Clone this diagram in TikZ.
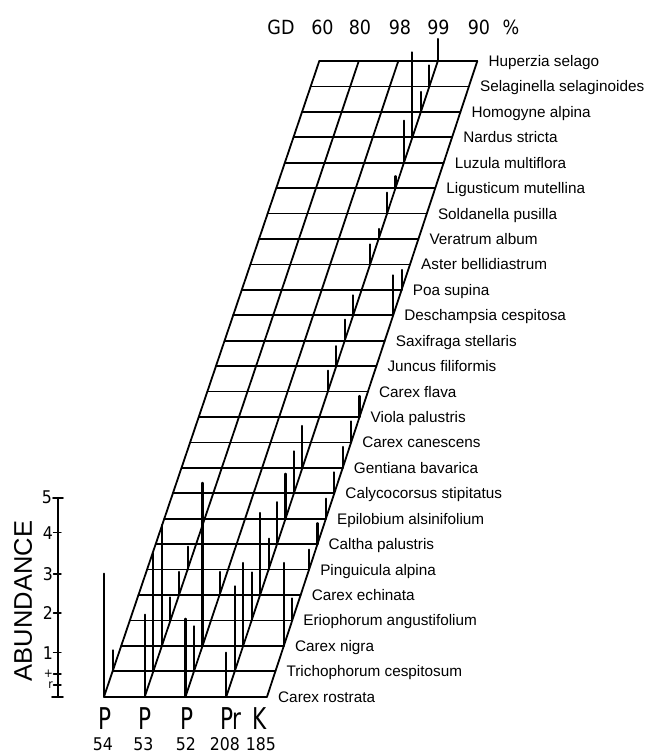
\documentclass[tikz,border=0pt]{standalone}
\usepackage{fontspec}
\setmainfont{Liberation Sans}
\newfontfamily\lett{DejaVu Sans Condensed}
\begin{document}
\begin{tikzpicture}[x=1pt,y=-1pt,line cap=round,line join=round,
  gridline/.style={line width=1.8pt},
  barline/.style={line width=2.1pt},
  sp/.style={anchor=base west,inner sep=0pt,font=\fontsize{15.3}{16}\selectfont},
  toplab/.style={anchor=base,inner sep=0pt,font=\lett\fontsize{19.5}{20}\selectfont},
  plab/.style={anchor=base,inner sep=0pt,font=\lett\fontsize{30}{31}\selectfont},
  nlab/.style={anchor=base,inner sep=0pt,font=\lett\fontsize{17.5}{18}\selectfont},
  slab/.style={anchor=east,inner sep=0pt,font=\lett\fontsize{17.5}{18}\selectfont},
  smlab/.style={anchor=east,inner sep=0pt,font=\lett\fontsize{12}{13}\selectfont}]
\useasboundingbox (0,0) rectangle (646,753);
% rows
\foreach \t in {0,...,25}{
  \pgfmathsetmacro\xa{319.3-(319.3-104)*\t/25}
  \pgfmathsetmacro\xe{477.3-(477.3-267)*\t/25}
  \pgfmathsetmacro\yy{61+25.428*\t}
  \draw[gridline] (\xa,\yy) -- (\xe,\yy);
}
% columns
\foreach \j in {0,...,4}{
  \pgfmathsetmacro\xt{319.3+39.5*\j}
  \pgfmathsetmacro\xbt{104+40.75*\j}
  \draw[gridline] (\xt,61) -- (\xbt,696.7);
}
% bars  row/column/height
\foreach \t/\j/\h in {0/3/22,1/3/21,2/3/20,3/3/85,4/3/42,5/3/12,6/3/21,7/3/10,8/3/20,
  9/4/20,10/3/20,10/4/40,11/3/21,12/3/20,13/3/21,14/4/21,15/4/21,16/3/42,16/4/21,
  17/3/42,17/4/21,18/3/45,18/4/20,19/3/42,19/4/21,20/1/23,20/3/31,20/4/20,
  21/1/23,21/2/23,21/3/82,22/1/23,22/3/48,22/4/22,23/1/121,23/2/163,23/3/83,23/4/83,
  24/0/21,24/1/118,24/2/45,24/3/85,25/0/123,25/1/82,25/2/78,25/3/44}{
  \pgfmathsetmacro\xb{(319.3+39.5*\j)*(1-\t/25)+(104+40.75*\j)*\t/25}
  \pgfmathsetmacro\yb{61+25.428*\t}
  \draw[barline] (\xb,\yb) -- ++(0,-\h);
}
% species labels
\foreach \t/\nm in {0/Huperzia selago,1/Selaginella selaginoides,2/Homogyne alpina,
  3/Nardus stricta,4/Luzula multiflora,5/Ligusticum mutellina,6/Soldanella pusilla,
  7/Veratrum album,8/Aster bellidiastrum,9/Poa supina,10/Deschampsia cespitosa,
  11/Saxifraga stellaris,12/Juncus filiformis,13/Carex flava,14/Viola palustris,
  15/Carex canescens,16/Gentiana bavarica,17/Calycocorsus stipitatus,
  18/Epilobium alsinifolium,19/Caltha palustris,20/Pinguicula alpina,
  21/Carex echinata,22/Eriophorum angustifolium,23/Carex nigra,
  24/Trichophorum cespitosum,25/Carex rostrata}{
  \pgfmathsetmacro\xr{477.3-(477.3-267)*\t/25+11}
  \pgfmathsetmacro\yr{61+25.428*\t+5.5}
  \node[sp] (sp\t) at (\xr,\yr) {\nm};
}
% top labels
\node[toplab] (gd) at (281,34) {GD};
\node[toplab] (c60) at (322.5,34) {60};
\node[toplab] (c80) at (360,34) {80};
\node[toplab] (c98) at (400,34) {98};
\node[toplab] (c99) at (438.5,34) {99};
\node[toplab] (c90) at (479,34) {90};
\node[toplab] (pct) at (511,34) {\%};
% bottom labels
\node[plab] (b1) at (105,729) {\scalebox{0.8}[1]{P}};
\node[plab] (b2) at (145,729) {\scalebox{0.8}[1]{P}};
\node[plab] (b3) at (186.7,729) {\scalebox{0.8}[1]{P}};
\node[plab] (b4) at (231,729) {\scalebox{0.8}[1]{Pr}};
\node[plab] (b5) at (260,729) {\scalebox{0.8}[1]{K}};
\node[nlab] (n1) at (103,750) {54};
\node[nlab] (n2) at (143.3,750) {53};
\node[nlab] (n3) at (186,750) {52};
\node[nlab] (n4) at (225,750) {208};
\node[nlab] (n5) at (261,750) {185};
% abundance scale
\draw[line width=1.6pt] (57.7,497.7) -- (57.7,696.7);
\draw[line width=1.6pt] (53,497.7) -- (63,497.7);
\draw[line width=1.6pt] (52,696.7) -- (63,696.7);
\foreach \yy in {532.7,574,613,652.7,674,685}{
  \draw[line width=1.4pt] (53.5,\yy) -- (61,\yy);
}
\node[slab] (s5) at (52,497.7) {5};
\node[slab] (s4) at (53,532.7) {4};
\node[slab] (s3) at (53,574) {3};
\node[slab] (s2) at (53,613) {2};
\node[slab] (s1) at (53,652.7) {1};
\node[smlab] (splus) at (53,674) {+};
\node[smlab] (sr) at (53,685) {r};
\node[rotate=90,inner sep=0pt,font=\fontsize{25.5}{26}\selectfont] (ab) at (23,601) {ABUNDANCE};
\end{tikzpicture}
\end{document}
